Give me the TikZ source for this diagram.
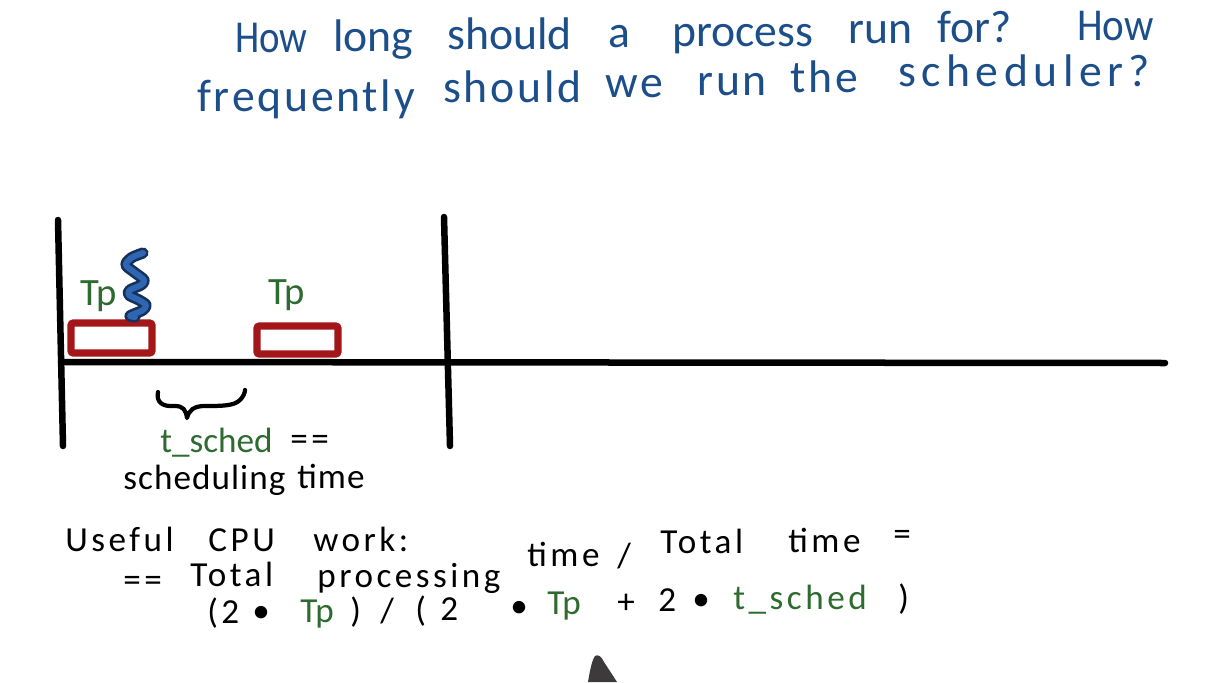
\documentclass[tikz,border=0pt]{standalone}
\usepackage{fontspec}
\setmainfont{Carlito}
\newfontfamily\handfont{Carlito}
\newfontfamily\handmid[LetterSpace=6]{Carlito}
\newfontfamily\handlow[LetterSpace=3]{Carlito}
\newfontfamily\handwide[LetterSpace=10]{Carlito}
\newfontfamily\handxwide[LetterSpace=12]{Carlito}
\newcommand{\handslash}{/}
\definecolor{blueink}{HTML}{1C4E8A}
\definecolor{greenink}{HTML}{2E6B30}
\definecolor{redbox}{HTML}{A3171A}
\definecolor{squigfill}{HTML}{2F66B2}
\definecolor{squigedge}{HTML}{15315C}
\definecolor{pen}{HTML}{3C3A3A}
\begin{document}
\begin{tikzpicture}[x=0.02cm,y=-0.02cm,
  word/.style={inner sep=0pt, anchor=base west},
  title1/.style={word, text=blueink, font=\handfont\fontsize{26}{30}\selectfont},
  title2/.style={word, text=blueink, font=\handmid\fontsize{26}{30}\selectfont},
  body/.style={word, font=\handwide\fontsize{20}{24}\selectfont},
  bodytight/.style={word, font=\handlow\fontsize{20}{24}\selectfont},
  greenword/.style={word, text=greenink, font=\handfont\fontsize{20}{24}\selectfont},
  tplabel/.style={word, text=greenink, font=\handfont\fontsize{22}{26}\selectfont},
  axis/.style={line width=3.7pt, line cap=round, black},
  procbox/.style={draw=redbox, line width=4.2pt, rounded corners=1.5pt, fill=white}]
\useasboundingbox[fill=white] (0,0) rectangle (1222,682);

% title, line 1
\node[title1] (ta1) at (235,53) {\scalebox{0.85}[1]{How}};
\foreach \i/\x/\y/\t in {2/333/52/long, 3/447/50/should, 4/608/48/a,
    5/672/47/process, 6/848/44/run, 7/937/43/for?}
  \node[title1] (ta\i) at (\x,\y) {\t};
\node[title1] (ta8) at (1077,41) {\scalebox{0.9}[1]{How}};
% title, line 2
\foreach \i/\x/\y/\t in {1/197/112/frequently, 2/443/103/should, 3/605/98/we,
    4/697/96/run, 5/790/93/the}
  \node[title2] (tb\i) at (\x,\y) {\t};
\node[title2, font=\handxwide\fontsize{26}{30}\selectfont] (tb6) at (898,87) {scheduler?};

% timeline axes
\coordinate (l0) at (58,220);
\coordinate (l1) at (63,446);
\coordinate (m0) at (444,217);
\coordinate (m1) at (450,446);
\coordinate (h0) at (61,362);
\coordinate (h1) at (1165,363);
\draw[axis] (l0) -- (l1);
\draw[axis] (m0) -- (m1);
\draw[axis] (h0) -- (h1);

% process boxes
\draw[procbox] (71,323) rectangle (152,353);
\node[inner sep=0pt] (box1) at (111.5,338) {};
\draw[procbox] (257,326) rectangle (338,354);
\node[inner sep=0pt] (box2) at (297.5,340) {};

% Tp labels
\node[tplabel] (tp1) at (80,305) {Tp};
\node[tplabel] (tp2) at (268,304) {Tp};

% squiggle (interrupt)
\foreach \w/\c in {6.4pt/squigedge, 3.4pt/squigfill}{
\draw[line width=\w, \c, line cap=round, line join=round]
  plot[smooth, tension=0.55] coordinates {(143,253) (131,258) (126,265) (134,272) (144,280)
       (141,285) (130,290) (129,295) (139,300) (146,305) (143,310) (134,314) (130,316) (135,317)};
}

% brace
\coordinate (b0) at (158,392);
\coordinate (b1) at (245,390);
\coordinate (btip) at (187,418);
\draw[line width=2.4pt, line cap=round, line join=round]
  (b0) .. controls (156,402) and (162,407) .. (175,406)
       .. controls (183,406) and (186,410) .. (btip)
       .. controls (189,410) and (194,406) .. (205,406)
       .. controls (222,406) and (234,406) .. (240,400)
       .. controls (243,397) and (245,393) .. (b1);

% scheduling time labels
\node[greenword] (tsched) at (160,452) {t\_sched};
\node[body] (tsEq) at (290,450) {==};
\node[bodytight] (sched) at (123,489) {scheduling};
\node[bodytight] (stime) at (297,488) {time};

% useful CPU work
\node[body] (u1) at (65,551) {Useful};
\node[body] (u2) at (208,551) {CPU};
\node[body] (u3) at (313,551) {work:};

% ratio line
\foreach \i/\x/\y/\t in {1/123/591/==, 2/190/586/Total, 3/317/587/processing, 4/527/566/time,
    5/617/567/\handslash, 6/660/553/Total, 7/788/552/time, 8/893/545/=}
  \node[body] (r\i) at (\x,\y) {\t};

% formula
\foreach \i/\x/\y/\t in {1/207/623/(, 2/221/623/2, 3/252/622/\textbullet, 5/350/622/),
    6/380/622/\handslash, 7/415/621/(, 8/440/620/2, 9/510/617/\textbullet, 11/617/613/+,
    12/658/611/2, 13/692/610/\textbullet, 15/898/609/)}
  \node[body] (f\i) at (\x,\y) {\t};
\node[greenword] (f4) at (300,622) {Tp};
\node[greenword] (f10) at (547,614) {Tp};
\node[greenword, font=\handwide\fontsize{20}{24}\selectfont] (f14) at (733,609) {t\_sched};

% pen cursor
\fill[pen] (588,682) .. controls (590,670) and (592,660) .. (595,656)
  .. controls (598,654) and (601,656) .. (604,662) -- (617,682) -- cycle;
\end{tikzpicture}
\end{document}
